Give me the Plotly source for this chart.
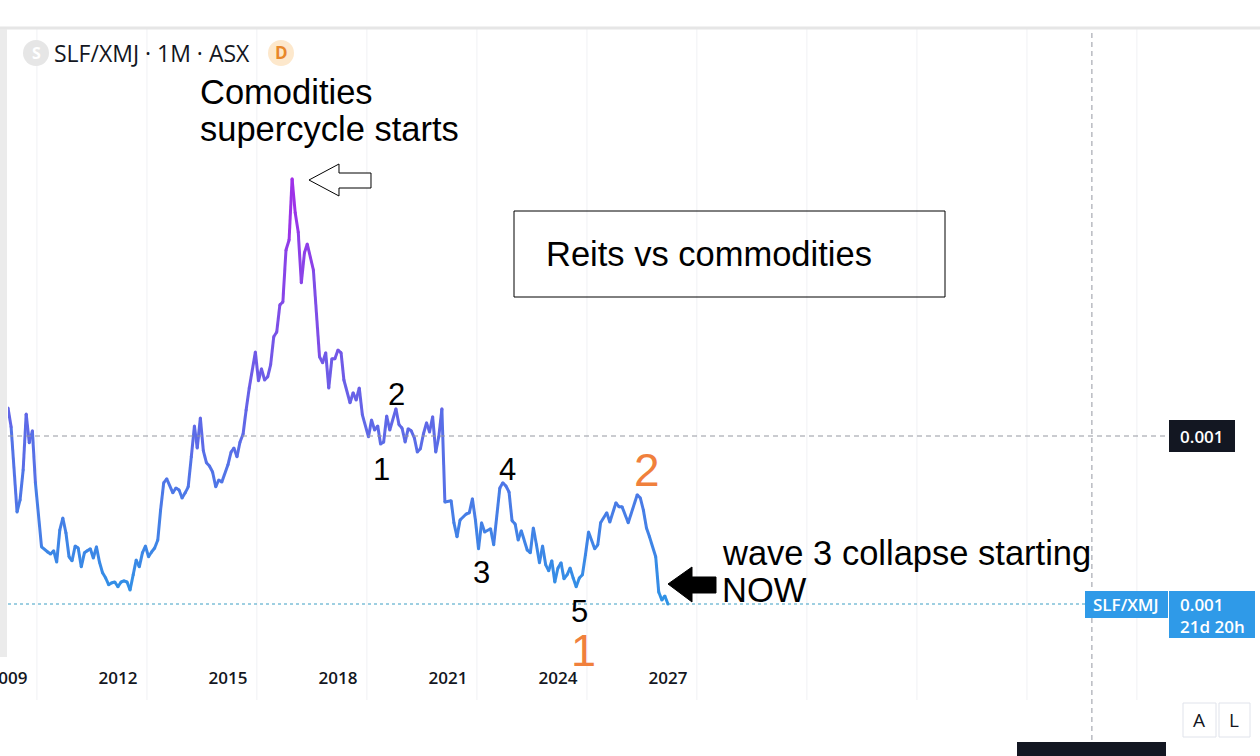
# %% imports

import plotly.graph_objects as go


# %% Data (SLF/XMJ monthly close, in units of 1e-4)

months = [
    '2009-01', '2009-02', '2009-04', '2009-05', '2009-06', '2009-07', '2009-08', '2009-09',
    '2009-10', '2009-12', '2010-02', '2010-03', '2010-04', '2010-05', '2010-06', '2010-07',
    '2010-08', '2010-09', '2010-10', '2010-11', '2010-12', '2011-01', '2011-02', '2011-03',
    '2011-04', '2011-05', '2011-06', '2011-07', '2011-08', '2011-09', '2011-10', '2011-11',
    '2011-12', '2012-01', '2012-02', '2012-03', '2012-04', '2012-05', '2012-06', '2012-07',
    '2012-08', '2012-09', '2012-10', '2012-11', '2012-12', '2013-01', '2013-02', '2013-03',
    '2013-04', '2013-05', '2013-07', '2013-08', '2013-09', '2013-10', '2013-11', '2013-12',
    '2014-01', '2014-02', '2014-03', '2014-04', '2014-05', '2014-06', '2014-07', '2014-08',
    '2014-09', '2014-10', '2014-11', '2015-01', '2015-02', '2015-03', '2015-04', '2015-05',
    '2015-06', '2015-07', '2015-08', '2015-10', '2015-11', '2015-12', '2016-01', '2016-02',
    '2016-03', '2016-04', '2016-05', '2016-06', '2016-07', '2016-08', '2016-09', '2016-10',
    '2016-11', '2016-12', '2017-01', '2017-02', '2017-03', '2017-05', '2017-07', '2017-08',
    '2017-09', '2017-10', '2017-11', '2017-12', '2018-01', '2018-02', '2018-03', '2018-05',
    '2018-06', '2018-07', '2018-08', '2018-09', '2018-11', '2018-12', '2019-01', '2019-02',
    '2019-03', '2019-04', '2019-05', '2019-06', '2019-08', '2019-09', '2019-10', '2019-11',
    '2019-12', '2020-01', '2020-02', '2020-03', '2020-04', '2020-05', '2020-06', '2020-07',
    '2020-08', '2020-09', '2020-10', '2020-11', '2020-12', '2021-02', '2021-03', '2021-04',
    '2021-05', '2021-07', '2021-08', '2021-09', '2021-10', '2021-11', '2021-12', '2022-01',
    '2022-03', '2022-04', '2022-06', '2022-07', '2022-08', '2022-09', '2022-10', '2022-11',
    '2022-12', '2023-01', '2023-03', '2023-04', '2023-05', '2023-06', '2023-07', '2023-08',
    '2023-09', '2023-10', '2023-11', '2023-12', '2024-01', '2024-02', '2024-03', '2024-04',
    '2024-05', '2024-06', '2024-07', '2024-08', '2024-09', '2024-10', '2024-11', '2025-01',
    '2025-02', '2025-03', '2025-05', '2025-06', '2025-08', '2025-09', '2025-10', '2025-12',
    '2026-03', '2026-04', '2026-05', '2026-06', '2026-07', '2026-09', '2026-10', '2026-11',
    '2026-12', '2027-01',
]

ratio_x1e4 = [
    10.70, 10.23, 8.10, 8.40, 9.15, 10.55, 9.83, 10.13,
    8.83, 7.23, 7.10, 7.05, 7.13, 6.85, 7.65, 7.95,
    7.58, 6.98, 6.88, 7.25, 7.20, 6.73, 7.08, 7.13,
    7.18, 6.95, 7.23, 6.85, 6.58, 6.45, 6.28, 6.33,
    6.35, 6.23, 6.35, 6.38, 6.35, 6.15, 6.53, 6.90,
    6.73, 7.08, 7.25, 6.98, 7.10, 7.20, 7.40, 8.15,
    8.83, 8.93, 8.58, 8.70, 8.65, 8.45, 8.58, 8.73,
    9.48, 10.25, 9.70, 10.45, 9.63, 9.33, 9.25, 9.10,
    8.73, 8.90, 8.85, 9.28, 9.60, 9.70, 9.48, 9.85,
    10.05, 10.65, 11.20, 12.10, 11.38, 11.68, 11.40, 11.48,
    11.78, 12.48, 12.60, 13.28, 13.35, 14.65, 14.90, 16.43,
    15.58, 15.10, 13.83, 14.58, 14.80, 14.15, 11.98, 11.83,
    12.08, 11.20, 11.93, 11.93, 12.15, 12.08, 11.40, 10.83,
    11.08, 10.90, 11.20, 10.53, 9.98, 10.40, 10.15, 10.25,
    9.80, 9.85, 10.50, 10.15, 10.68, 10.28, 10.20, 9.85,
    10.18, 10.13, 9.95, 9.60, 9.68, 10.05, 10.33, 10.10,
    10.48, 9.60, 9.98, 10.68, 8.35, 8.38, 7.83, 7.48,
    7.90, 8.05, 8.08, 8.43, 7.90, 7.18, 7.83, 7.60,
    7.68, 7.28, 8.70, 8.83, 8.75, 8.60, 7.88, 7.80,
    7.40, 7.63, 7.15, 7.08, 7.70, 7.28, 6.83, 7.25,
    6.78, 6.63, 6.88, 6.35, 6.70, 6.83, 6.43, 6.53,
    6.70, 6.45, 6.23, 6.45, 6.53, 7.03, 7.60, 7.18,
    7.28, 7.83, 8.08, 7.85, 8.33, 8.23, 8.23, 7.83,
    8.53, 8.45, 8.15, 7.70, 7.48, 6.98, 6.10, 5.90,
    6.00, 5.80,
]

tick_dates = ['2009-01-01', '2012-01-01', '2015-01-01', '2018-01-01',
              '2021-01-01', '2024-01-01', '2027-01-01']
tick_labels = ['2009', '2012', '2015', '2018', '2021', '2024', '2027']
grid_dates = ['2009-10-16', '2012-10-16', '2015-10-16', '2018-10-16',
              '2021-10-16', '2024-10-16', '2027-10-16', '2030-10-16',
              '2033-10-16', '2036-10-16', '2039-10-16']

crosshair_date = '2038-07-25'
crosshair_value = 10.0
last_value = ratio_x1e4[-1]


# %% Layout helpers (pixel -> paper for decorations)

W, H = 1260, 756
ML, MR, MT, MB = 8, 92, 28, 94


def fx(px):
    return (px - ML) / (W - ML - MR)


def fy(py):
    return (H - MB - py) / (H - MT - MB)


def poly(points):
    return 'M ' + ' L '.join(f'{fx(x):.5f},{fy(y):.5f}' for x, y in points) + ' Z'


LOW = (46, 147, 230)
HIGH = (163, 45, 232)


def grad(v, vmin, vmax):
    t = (v - vmin) / (vmax - vmin)
    c = [round(a + (b - a) * t) for a, b in zip(LOW, HIGH)]
    return f'rgb({c[0]},{c[1]},{c[2]})'


TEXT_FONT = 'Liberation Sans, Arial, sans-serif'
UI_FONT = 'Open Sans, Roboto, sans-serif'


# %% Figure

vals = [v * 1e-4 for v in ratio_x1e4]
vmin, vmax = min(ratio_x1e4), max(ratio_x1e4)

fig = go.Figure()

# gradient line, one segment at a time
for i in range(len(vals) - 1):
    col = grad((ratio_x1e4[i] + ratio_x1e4[i + 1]) / 2, vmin, vmax)
    fig.add_trace(go.Scatter(
        x=months[i:i + 2], y=vals[i:i + 2], mode='lines',
        line=dict(color=col, width=3), hoverinfo='skip', showlegend=False))

# dots on the joints so the segments don't show gaps
fig.add_trace(go.Scatter(
    x=months, y=vals, mode='markers',
    marker=dict(size=3, color=[grad(v, vmin, vmax) for v in ratio_x1e4]),
    hoverinfo='skip', showlegend=False))

# vertical grid runs down through the time scale too
shapes = [dict(type='line', xref='x', yref='paper', x0=d, x1=d, y0=fy(700), y1=fy(29),
               line=dict(color='#f0f1f4', width=1), layer='below') for d in grid_dates]

shapes += [
    # top bar border and left panel strip
    dict(type='line', xref='paper', yref='paper', x0=fx(0), x1=fx(W), y0=fy(28), y1=fy(28),
         line=dict(color='#e6e6e6', width=3)),
    dict(type='rect', xref='paper', yref='paper', x0=fx(0), x1=fx(7), y0=fy(657), y1=fy(29),
         fillcolor='#ebebeb', line_width=0),
    # crosshair
    dict(type='line', xref='paper', yref='y', x0=0, x1=1, y0=crosshair_value * 1e-4,
         y1=crosshair_value * 1e-4, line=dict(color='#9598a1', width=1, dash='5px,4px')),
    dict(type='line', xref='x', yref='paper', x0=crosshair_date, x1=crosshair_date,
         y0=fy(740), y1=fy(29), line=dict(color='#9598a1', width=1, dash='5px,4px')),
    # last price line
    dict(type='line', xref='paper', yref='y', x0=0, x1=fx(1085), y0=last_value * 1e-4,
         y1=last_value * 1e-4, line=dict(color='#3d9fc4', width=1, dash='dot')),
    # price tags
    dict(type='rect', xref='paper', yref='paper', x0=fx(1169), x1=fx(1235), y0=fy(452),
         y1=fy(420), fillcolor='#131722', line_width=0),
    dict(type='rect', xref='paper', yref='paper', x0=fx(1085), x1=fx(1168), y0=fy(618),
         y1=fy(591), fillcolor='#2f9ae8', line_width=0),
    dict(type='rect', xref='paper', yref='paper', x0=fx(1169), x1=fx(1255), y0=fy(638),
         y1=fy(591), fillcolor='#2f9ae8', line_width=0),
    # time tag of crosshair (cut off at bottom)
    dict(type='rect', xref='paper', yref='paper', x0=fx(1017), x1=fx(1166), y0=fy(760),
         y1=fy(742), fillcolor='#131722', line_width=0),
    # A / L buttons
    dict(type='rect', xref='paper', yref='paper', x0=fx(1183), x1=fx(1216), y0=fy(737),
         y1=fy(703), fillcolor='white', line=dict(color='#e0e3eb', width=1)),
    dict(type='rect', xref='paper', yref='paper', x0=fx(1219), x1=fx(1250), y0=fy(737),
         y1=fy(703), fillcolor='white', line=dict(color='#e0e3eb', width=1)),
    # symbol badges
    dict(type='circle', xref='paper', yref='paper', x0=fx(23), x1=fx(49), y0=fy(66), y1=fy(40),
         fillcolor='#e6e6e6', line_width=0),
    dict(type='circle', xref='paper', yref='paper', x0=fx(268), x1=fx(294), y0=fy(66), y1=fy(40),
         fillcolor='#fde8cc', line_width=0),
    # drawn arrows and box
    dict(type='path', xref='paper', yref='paper',
         path=poly([(309, 180), (339, 164), (339, 173), (371, 173), (371, 188), (339, 188), (339, 196)]),
         fillcolor='white', line=dict(color='black', width=1)),
    dict(type='path', xref='paper', yref='paper',
         path=poly([(668, 584), (692, 567), (692, 577), (716, 577), (716, 593), (692, 593), (692, 602)]),
         fillcolor='black', line=dict(color='black', width=1)),
    dict(type='rect', xref='paper', yref='paper', x0=fx(514), x1=fx(945), y0=fy(297), y1=fy(211),
         line=dict(color='black', width=1)),
]


def note(text, x, y, size, color='black', xanchor='left', family=TEXT_FONT, weight='normal'):
    return dict(text=text, xref='paper', yref='paper', x=fx(x), y=fy(y), xanchor=xanchor,
                yanchor='middle', showarrow=False,
                font=dict(family=family, size=size, color=color, weight=weight))


ORANGE = '#f0803c'
annotations = [
    note('SLF/XMJ · 1M · ASX', 52, 53, 23, color='#131722', family=UI_FONT),
    note('S', 36, 53, 16, color='white', xanchor='center', family=UI_FONT, weight='bold'),
    note('D', 281, 53, 17, color='#e8872a', xanchor='center', family=UI_FONT, weight='bold'),
    note('Comodities', 198, 92, 34.5),
    note('supercycle starts', 198, 129, 34.5),
    note('Reits vs commodities', 544, 254, 34.5),
    note('wave 3 collapse starting', 720, 553, 34.5),
    note('NOW', 720, 590, 34.5),
    note('2', 396, 394, 31, xanchor='center'),
    note('1', 381, 469, 31, xanchor='center'),
    note('4', 507, 469, 31, xanchor='center'),
    note('3', 481, 572, 31, xanchor='center'),
    note('5', 579, 611, 31, xanchor='center'),
    note('2', 647, 470, 46, color=ORANGE, xanchor='center'),
    note('1', 583, 650, 45, color=ORANGE, xanchor='center'),
    note('0.001', 1202, 436, 17, color='white', xanchor='center', family=UI_FONT, weight=600),
    note('SLF/XMJ', 1126, 604, 17, color='white', xanchor='center', family=UI_FONT, weight=600),
    note('0.001', 1178, 604, 17, color='white', family=UI_FONT, weight=600),
    note('21d 20h', 1178, 626, 17, color='white', family=UI_FONT, weight=600),
    note('A', 1199, 720, 19, color='#131722', xanchor='center', family=UI_FONT),
    note('L', 1234, 720, 19, color='#131722', xanchor='center', family=UI_FONT),
]

fig.update_layout(
    width=W, height=H, autosize=False,
    margin=dict(l=ML, r=MR, t=MT, b=MB, pad=0, autoexpand=False),
    paper_bgcolor='white', plot_bgcolor='white',
    showlegend=False,
    shapes=shapes,
    annotations=annotations,
    xaxis=dict(
        type='date', range=['2009-01-01', '2040-08-21'],
        tickmode='array', tickvals=tick_dates, ticktext=tick_labels,
        ticklabeloverflow='allow', automargin=False,
        showgrid=False, zeroline=False, showline=False,
        ticks='outside', ticklen=1, tickcolor='rgba(0,0,0,0)',
        tickfont=dict(family=UI_FONT, size=17, color='#131722', weight=600),
    ),
    yaxis=dict(
        range=[4.35e-4, 20.2e-4], showgrid=False, zeroline=False,
        showticklabels=False, showline=False, ticks='', automargin=False,
    ),
)

# page body has a default margin; drop it so the figure sits at 0,0
fig.write_html('out.html', config={'displayModeBar': False},
               post_script="document.body.style.margin='0';"
                           "document.body.style.overflow='hidden';")
